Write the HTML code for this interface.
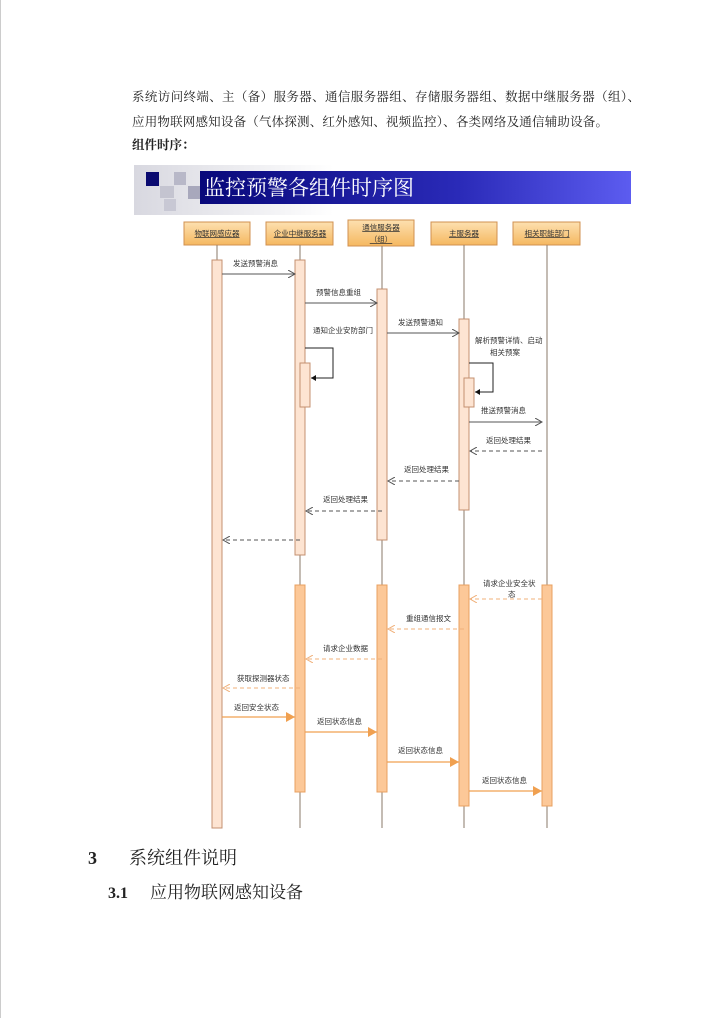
<!DOCTYPE html>
<html><head><meta charset="utf-8"><style>
html,body{margin:0;padding:0;background:#fff;}
svg{display:block;}
.t{font-family:"Liberation Serif","Noto Serif CJK SC",serif;fill:#222;}
.s{font-family:"Liberation Sans","Noto Sans CJK SC",sans-serif;font-size:7.5px;fill:#333;}
</style></head><body>
<svg width="720" height="1018" viewBox="0 0 720 1018" xmlns="http://www.w3.org/2000/svg">
<defs>
<linearGradient id="bar" x1="0" x2="1" y1="0" y2="0"><stop offset="0" stop-color="#08087a"/><stop offset="0.6" stop-color="#2a2ab8"/><stop offset="1" stop-color="#5c5cf0"/></linearGradient>
<linearGradient id="bg" x1="0" x2="1" y1="0" y2="0"><stop offset="0" stop-color="#d8d8e0"/><stop offset="1" stop-color="#ffffff"/></linearGradient>
<linearGradient id="hd" x1="0" x2="0" y1="0" y2="1"><stop offset="0" stop-color="#fde0b0"/><stop offset="1" stop-color="#f5b860"/></linearGradient>
<marker id="oa" markerWidth="8" markerHeight="8" refX="7" refY="4" orient="auto" markerUnits="userSpaceOnUse"><path d="M0,0 L7,4 L0,8" fill="none" stroke="#555" stroke-width="1"/></marker>
<marker id="ob" markerWidth="8" markerHeight="8" refX="7" refY="4" orient="auto" markerUnits="userSpaceOnUse"><path d="M0,0 L7,4 L0,8" fill="none" stroke="#f0b07a" stroke-width="1"/></marker>
<marker id="fa" markerWidth="6" markerHeight="6" refX="5" refY="3" orient="auto" markerUnits="userSpaceOnUse"><path d="M0,0 L5,3 L0,6Z" fill="#111"/></marker>
<marker id="fo" markerWidth="10" markerHeight="10" refX="9" refY="5" orient="auto" markerUnits="userSpaceOnUse"><path d="M0,0 L9,5 L0,10Z" fill="#f0a050"/></marker>
</defs>
<line x1="0.5" y1="0" x2="0.5" y2="1018" stroke="#ccc"/>
<text class="t" x="132" y="101" font-size="12.5" textLength="508" lengthAdjust="spacing">系统访问终端、主（备）服务器、通信服务器组、存储服务器组、数据中继服务器（组）、</text>
<text class="t" x="132" y="126" font-size="12.5" textLength="476" lengthAdjust="spacing">应用物联网感知设备（气体探测、红外感知、视频监控）、各类网络及通信辅助设备。</text>
<text class="t" x="132" y="149" font-size="12.5" font-weight="bold">组件时序：</text>
<rect x="134" y="165" width="200" height="50" fill="url(#bg)"/>
<rect x="146" y="172" width="13" height="14" fill="#0a0a70"/>
<rect x="174" y="172" width="12" height="13" fill="#b8b8c8"/>
<rect x="160" y="186" width="14" height="12" fill="#c4c4d0"/>
<rect x="188" y="186" width="12" height="13" fill="#a8a8bc"/>
<rect x="164" y="199" width="12" height="12" fill="#c8c8d4"/>
<rect x="200" y="171" width="431" height="33" fill="url(#bar)"/>
<text x="204" y="195" font-family="'Noto Serif CJK SC',serif" font-size="21" fill="#fff">监控预警各组件时序图</text>
<g stroke="#d09050" fill="url(#hd)">
<rect x="184" y="222" width="66" height="23"/><rect x="266" y="222" width="67" height="23"/><rect x="348" y="220" width="66" height="26"/><rect x="431" y="222" width="66" height="23"/><rect x="513" y="222" width="67" height="23"/></g>
<g class="s" text-anchor="middle" text-decoration="underline">
<text x="217" y="236">物联网感应器</text><text x="300" y="236">企业中继服务器</text><text x="381" y="230">通信服务器</text><text x="381" y="242">（组）</text><text x="464" y="236">主服务器</text><text x="547" y="236">相关职能部门</text></g>
<g stroke="#8a7a6a" stroke-width="1">
<line x1="217" y1="245" x2="217" y2="828"/><line x1="300" y1="245" x2="300" y2="828"/><line x1="382" y1="246" x2="382" y2="828"/><line x1="464" y1="245" x2="464" y2="828"/><line x1="547" y1="245" x2="547" y2="828"/></g>
<g fill="#fde4d2" stroke="#c49070">
<rect x="212" y="260" width="10" height="568"/>
<rect x="295" y="260" width="10" height="295"/>
<rect x="377" y="289" width="10" height="251"/>
<rect x="459" y="319" width="10" height="191"/>
<rect x="300" y="363" width="10" height="44"/>
<rect x="464" y="378" width="10" height="29"/></g>
<g fill="#fcc898" stroke="#e8a060">
<rect x="295" y="585" width="10" height="207"/>
<rect x="377" y="585" width="10" height="207"/>
<rect x="459" y="585" width="10" height="221"/>
<rect x="542" y="585" width="10" height="221"/></g>
<g stroke="#555" fill="none" stroke-width="1">
<line x1="222" y1="274" x2="295" y2="274" marker-end="url(#oa)"/>
<line x1="305" y1="303" x2="377" y2="303" marker-end="url(#oa)"/>
<line x1="387" y1="333" x2="459" y2="333" marker-end="url(#oa)"/>
<line x1="469" y1="422" x2="542" y2="422" marker-end="url(#oa)"/>
<g stroke-dasharray="4,3">
<line x1="542" y1="451" x2="470" y2="451" marker-end="url(#oa)"/>
<line x1="459" y1="481" x2="388" y2="481" marker-end="url(#oa)"/>
<line x1="382" y1="511" x2="306" y2="511" marker-end="url(#oa)"/>
<line x1="300" y1="540" x2="223" y2="540" marker-end="url(#oa)"/></g></g>
<g stroke="#222" fill="none">
<polyline points="305,348 333,348 333,378 311,378" marker-end="url(#fa)"/>
<polyline points="469,363 493,363 493,392 475,392" marker-end="url(#fa)"/></g>
<g stroke="#f0b07a" fill="none" stroke-dasharray="4,3">
<line x1="542" y1="599" x2="470" y2="599" marker-end="url(#ob)"/>
<line x1="464" y1="629" x2="388" y2="629" marker-end="url(#ob)"/>
<line x1="382" y1="659" x2="306" y2="659" marker-end="url(#ob)"/>
<line x1="300" y1="688" x2="223" y2="688" marker-end="url(#ob)"/></g>
<g stroke="#f0a050" fill="none" stroke-width="1.2">
<line x1="222" y1="717" x2="295" y2="717" marker-end="url(#fo)"/>
<line x1="305" y1="732" x2="377" y2="732" marker-end="url(#fo)"/>
<line x1="387" y1="762" x2="459" y2="762" marker-end="url(#fo)"/>
<line x1="469" y1="791" x2="542" y2="791" marker-end="url(#fo)"/></g>
<g class="s">
<text x="233" y="266">发送预警消息</text>
<text x="316" y="295">预警信息重组</text>
<text x="398" y="325">发送预警通知</text>
<text x="313" y="333">通知企业安防部门</text>
<text x="475" y="343">解析预警详情、启动</text>
<text x="490" y="355">相关预案</text>
<text x="481" y="413">推送预警消息</text>
<text x="486" y="443">返回处理结果</text>
<text x="404" y="472">返回处理结果</text>
<text x="323" y="502">返回处理结果</text>
<text x="483" y="586">请求企业安全状</text>
<text x="508" y="597">态</text>
<text x="406" y="621">重组通信报文</text>
<text x="323" y="651">请求企业数据</text>
<text x="237" y="681">获取探测器状态</text>
<text x="234" y="710">返回安全状态</text>
<text x="317" y="724">返回状态信息</text>
<text x="398" y="753">返回状态信息</text>
<text x="482" y="783">返回状态信息</text></g>
<text class="t" x="88" y="864" font-size="18" font-weight="bold">3</text>
<text class="t" x="129" y="864" font-size="18">系统组件说明</text>
<text class="t" x="108" y="898" font-size="16" font-weight="bold">3.1</text>
<text class="t" x="150" y="898" font-size="17">应用物联网感知设备</text>
</svg>
</body></html>
